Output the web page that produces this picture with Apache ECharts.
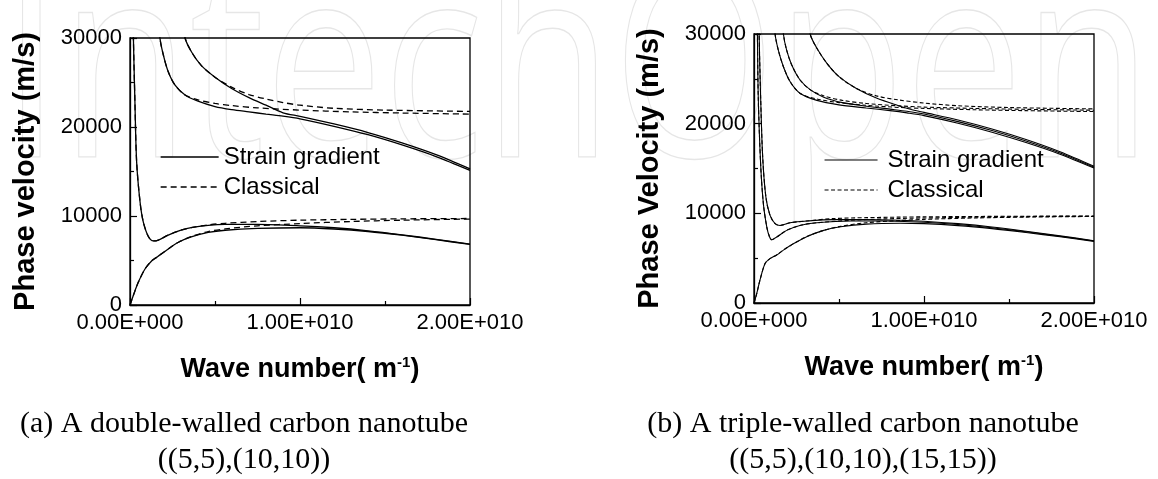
<!DOCTYPE html>
<html>
<head>
<meta charset="utf-8">
<script src="https://cdn.jsdelivr.net/npm/echarts@6/dist/echarts.min.js"></script>
<style>
  html, body { margin: 0; padding: 0; background: #fff; }
  #chart { width: 1158px; height: 479px; }
</style>
</head>
<body>
<div id="chart"></div>
<script>
// Wave number k is given in units of 1e10 m^-1, phase velocity in m/s.
const K_UNIT = 1e10;

// Axis ranges and tick steps
const xRange = [0, 2e10];
const xStep = 1e10;
const yRange = [0, 30000];
const yStep = 10000;

// Legend entries
const legendNames = ['Strain gradient', 'Classical'];

// ---- (a) double-walled tube ((5,5),(10,10)) ----
const aStrain1 = [[0,0],[0.02,1100],[0.05,2600],[0.09,4100],[0.13,5000],[0.16,5400],[0.225,6300],[0.285,7050],[0.36,7650],[0.46,8150],[0.56,8400],[0.75,8600],[1.0,8680],[1.2,8540],[1.4,8260],[1.6,7840],[1.8,7340],[2.0,6800]];
const aClassic1 = [[0,0],[0.02,1100],[0.05,2600],[0.09,4100],[0.13,5000],[0.16,5400],[0.225,6300],[0.285,7050],[0.36,7700],[0.46,8250],[0.56,8550],[0.75,8900],[1.0,9150],[1.3,9380],[1.6,9530],[2.0,9660]];
const aStrain2 = [[0.016,36000],[0.02,30000],[0.029,22800],[0.039,16100],[0.059,11600],[0.078,9350],[0.108,7700],[0.137,7200],[0.167,7300],[0.225,7850],[0.30,8400],[0.36,8700],[0.46,8950],[0.56,9050],[0.75,9050],[1.0,8900],[1.2,8680],[1.4,8340],[1.6,7890],[1.8,7380],[2.0,6840]];
const aClassic2 = [[0.016,36000],[0.02,30000],[0.029,22800],[0.039,16100],[0.059,11600],[0.078,9350],[0.108,7700],[0.137,7200],[0.167,7300],[0.225,7850],[0.30,8400],[0.36,8700],[0.46,9000],[0.56,9180],[0.75,9380],[1.0,9530],[1.3,9620],[1.6,9680],[2.0,9720]];
const aStrain3 = [[0.165,33000],[0.176,30000],[0.196,28100],[0.225,26200],[0.265,24700],[0.324,23600],[0.40,22900],[0.50,22300],[0.60,21950],[0.70,21700],[0.80,21450],[0.90,21220],[1.0,20920],[1.2,20080],[1.4,19130],[1.6,17980],[1.8,16680],[2.0,15130]];
const aClassic3 = [[0.165,33000],[0.176,30000],[0.196,28100],[0.225,26200],[0.265,24700],[0.324,23600],[0.40,23050],[0.50,22650],[0.60,22400],[0.75,22150],[1.0,21900],[1.3,21700],[1.6,21570],[2.0,21450]];
const aStrain4 = [[0.31,32500],[0.324,30000],[0.363,28400],[0.42,26900],[0.50,25600],[0.60,24300],[0.70,23300],[0.80,22450],[0.90,21600],[1.0,21200],[1.2,20340],[1.4,19380],[1.6,18220],[1.8,16900],[2.0,15300]];
const aClassic4 = [[0.31,32500],[0.324,30000],[0.363,28400],[0.42,26900],[0.50,25600],[0.60,24450],[0.70,23650],[0.80,23150],[0.90,22750],[1.0,22450],[1.2,22100],[1.5,21900],[2.0,21750]];

// ---- (b) triple-walled tube ((5,5),(10,10),(15,15)) ----
const bStrain1 = [[0,0],[0.016,1050],[0.035,2550],[0.065,4400],[0.094,4950],[0.133,5350],[0.173,5900],[0.231,6600],[0.31,7400],[0.41,8100],[0.51,8500],[0.66,8800],[0.86,8900],[1.0,8850],[1.2,8630],[1.4,8290],[1.6,7860],[1.8,7390],[2.0,6870]];
const bClassic1 = [[0,0],[0.016,1050],[0.035,2550],[0.065,4400],[0.094,4950],[0.133,5350],[0.173,5900],[0.231,6600],[0.31,7400],[0.41,8100],[0.51,8550],[0.66,8950],[0.86,9200],[1.0,9330],[1.3,9480],[1.6,9580],[2.0,9650]];
const bStrain2 = [[0.016,36000],[0.02,30000],[0.025,23000],[0.039,15500],[0.055,11100],[0.075,8500],[0.09,7450],[0.104,7050],[0.133,7350],[0.192,8100],[0.27,8650],[0.37,8950],[0.57,9150],[0.76,9150],[1.0,9000],[1.2,8760],[1.4,8400],[1.6,7940],[1.8,7440],[2.0,6910]];
const bClassic2 = [[0.016,36000],[0.02,30000],[0.025,23000],[0.039,15500],[0.055,11100],[0.075,8500],[0.09,7450],[0.104,7050],[0.133,7350],[0.192,8100],[0.27,8650],[0.37,8950],[0.57,9230],[0.76,9380],[1.0,9480],[1.3,9570],[1.6,9630],[2.0,9680]];
const bStrain3 = [[0.024,37000],[0.03,30000],[0.039,23000],[0.051,16300],[0.07,11800],[0.094,9800],[0.124,8850],[0.153,8650],[0.212,8950],[0.31,9150],[0.47,9300],[0.66,9300],[0.86,9230],[1.0,9120],[1.2,8850],[1.4,8480],[1.6,8000],[1.8,7490],[2.0,6950]];
const bClassic3 = [[0.024,37000],[0.03,30000],[0.039,23000],[0.051,16300],[0.07,11800],[0.094,9800],[0.124,8850],[0.153,8650],[0.212,8950],[0.31,9150],[0.47,9420],[0.66,9520],[0.86,9580],[1.0,9610],[1.3,9650],[1.6,9680],[2.0,9700]];
const bStrain4 = [[0.115,33000],[0.124,30000],[0.143,28200],[0.173,26350],[0.212,24700],[0.27,23400],[0.37,22600],[0.5,22100],[0.66,21750],[0.8,21450],[0.9,21200],[1.0,20900],[1.2,20050],[1.4,19050],[1.6,17900],[1.8,16600],[2.0,15050]];
const bClassic4 = [[0.115,33000],[0.124,30000],[0.143,28200],[0.173,26350],[0.212,24700],[0.27,23400],[0.37,22750],[0.5,22350],[0.66,22050],[0.86,21800],[1.0,21700],[1.3,21550],[1.6,21450],[2.0,21350]];
const bStrain5 = [[0.165,32500],[0.173,30000],[0.192,28200],[0.222,26550],[0.27,24900],[0.33,23800],[0.41,22950],[0.52,22350],[0.66,21950],[0.8,21620],[0.9,21380],[1.0,21080],[1.2,20230],[1.4,19230],[1.6,18070],[1.8,16740],[2.0,15150]];
const bClassic5 = [[0.165,32500],[0.173,30000],[0.192,28200],[0.222,26550],[0.27,24900],[0.33,23800],[0.41,23100],[0.52,22600],[0.66,22250],[0.86,21980],[1.0,21850],[1.3,21700],[1.6,21600],[2.0,21500]];
const bStrain6 = [[0.32,32000],[0.33,30000],[0.37,28400],[0.43,26700],[0.5,25250],[0.6,23950],[0.72,22850],[0.85,22000],[0.92,21600],[1.0,21260],[1.2,20410],[1.4,19410],[1.6,18240],[1.8,16880],[2.0,15250]];
const bClassic6 = [[0.32,32000],[0.33,30000],[0.37,28400],[0.43,26700],[0.5,25250],[0.6,23950],[0.72,23100],[0.85,22650],[1.0,22300],[1.2,22000],[1.5,21800],[2.0,21650]];

const SANS = '"Liberation Sans", Arial, sans-serif';
const SERIF = '"Liberation Serif", "Times New Roman", serif';

// 1e10 -> "1.00E+010"
function sciLabel(v) {
  const parts = Number(v).toExponential(2).split('e');
  const n = parseInt(parts[1], 10);
  return parts[0] + 'E' + (n < 0 ? '-' : '+') + String(Math.abs(n)).padStart(3, '0');
}

const DASH_A = [6, 4];
const DASH_B = [4, 2.5];

function curve(points, name, gi, dash, width) {
  return {
    type: 'line',
    name: name,
    xAxisIndex: gi,
    yAxisIndex: gi,
    data: points.map(p => [p[0] * K_UNIT, p[1]]),
    symbol: 'none',
    showSymbol: false,
    smooth: 0.3,
    clip: true,
    silent: true,
    animation: false,
    itemStyle: { color: '#000', opacity: 0 },
    lineStyle: { color: '#000', width: width, type: dash || 'solid' },
    z: dash ? 3 : 2
  };
}

function xAxisFor(gi) {
  return {
    type: 'value', gridIndex: gi,
    min: xRange[0], max: xRange[1], interval: xStep,
    axisLine: { show: true, lineStyle: { color: '#000', width: 1.3 } },
    axisTick: { show: true, inside: true, length: 7, lineStyle: { color: '#000', width: 1.2 } },
    minorTick: { show: true, splitNumber: 2, length: 4, lineStyle: { color: '#000', width: 1.2 } },
    splitLine: { show: false }, minorSplitLine: { show: false },
    axisLabel: { formatter: sciLabel, fontSize: 22, fontFamily: SANS, color: '#000', margin: 7, showMinLabel: true, showMaxLabel: true, hideOverlap: false },
    name: '{t|Wave number( m}{s|-1}{t|)}',
    nameLocation: 'middle', nameGap: 50, nameMoveOverlap: false,
    nameTextStyle: {
      rich: {
        t: { fontSize: 27, fontWeight: 'bold', fontFamily: SANS, color: '#000', lineHeight: 30 },
        s: { fontSize: 15, fontWeight: 'bold', fontFamily: SANS, color: '#000', lineHeight: 15, verticalAlign: 'top' }
      }
    }
  };
}

function yAxisFor(gi, title) {
  return {
    type: 'value', gridIndex: gi,
    min: yRange[0], max: yRange[1], interval: yStep,
    axisLine: { show: true, lineStyle: { color: '#000', width: 1.3 } },
    axisTick: { show: true, inside: true, length: 7, lineStyle: { color: '#000', width: 1.2 } },
    minorTick: { show: true, splitNumber: 2, length: 4, lineStyle: { color: '#000', width: 1.2 } },
    splitLine: { show: false }, minorSplitLine: { show: false },
    axisLabel: { formatter: v => String(v), fontSize: 22, fontFamily: SANS, color: '#000', margin: 8, showMinLabel: true, showMaxLabel: true, hideOverlap: false },
    name: title, nameLocation: 'middle', nameGap: 90, nameMoveOverlap: false,
    nameTextStyle: { fontSize: 29, fontWeight: 'bold', fontFamily: SANS, color: '#000' }
  };
}

const series = [
  curve(aStrain1, legendNames[0], 0, null, 1.3),
  curve(aStrain2, legendNames[0], 0, null, 1.3),
  curve(aStrain3, legendNames[0], 0, null, 1.3),
  curve(aStrain4, legendNames[0], 0, null, 1.3),
  curve(aClassic1, legendNames[1], 0, DASH_A, 1.3),
  curve(aClassic2, legendNames[1], 0, DASH_A, 1.3),
  curve(aClassic3, legendNames[1], 0, DASH_A, 1.3),
  curve(aClassic4, legendNames[1], 0, DASH_A, 1.3),
  curve(bStrain1, legendNames[0], 1, null, 1.1),
  curve(bStrain2, legendNames[0], 1, null, 1.1),
  curve(bStrain3, legendNames[0], 1, null, 1.1),
  curve(bStrain4, legendNames[0], 1, null, 1.1),
  curve(bStrain5, legendNames[0], 1, null, 1.1),
  curve(bStrain6, legendNames[0], 1, null, 1.1),
  curve(bClassic1, legendNames[1], 1, DASH_B, 1.1),
  curve(bClassic2, legendNames[1], 1, DASH_B, 1.1),
  curve(bClassic3, legendNames[1], 1, DASH_B, 1.1),
  curve(bClassic4, legendNames[1], 1, DASH_B, 1.1),
  curve(bClassic5, legendNames[1], 1, DASH_B, 1.1),
  curve(bClassic6, legendNames[1], 1, DASH_B, 1.1)
];

// Faint outlined watermark across the top, stretched to the page width
const WM_TEXT = 'IntechOpen';
const WM_SIZE = 270;
const WM_FONT = WM_SIZE + 'px "Open Sans"';
const measureCtx = document.createElement('canvas').getContext('2d');
measureCtx.font = WM_FONT;
const wmScaleX = 1150 / measureCtx.measureText(WM_TEXT).width;

const legendText = { fontSize: 24, fontFamily: SANS, color: '#000', lineHeight: 24 };
const hiddenMarker = { opacity: 0, color: 'transparent', borderWidth: 0 };

const chart = echarts.init(document.getElementById('chart'), null, { renderer: 'canvas' });
chart.setOption({
  backgroundColor: '#fff',
  animation: false,
  grid: [
    { left: 130, top: 38, width: 340, height: 267, show: true, borderColor: '#000', borderWidth: 1.3, backgroundColor: 'transparent', containLabel: false, outerBoundsMode: 'none' },
    { left: 754, top: 34, width: 340, height: 269, show: true, borderColor: '#000', borderWidth: 1.3, backgroundColor: 'transparent', containLabel: false, outerBoundsMode: 'none' }
  ],
  xAxis: [xAxisFor(0), xAxisFor(1)],
  yAxis: [yAxisFor(0, 'Phase velocity (m/s)'), yAxisFor(1, 'Phase Velocity (m/s)')],
  legend: [
    {
      orient: 'vertical', left: 160, top: 145, padding: 0, itemGap: 6,
      itemWidth: 58, itemHeight: 14, selectedMode: false,
      itemStyle: hiddenMarker,
      data: [
        { name: legendNames[0], itemStyle: hiddenMarker, lineStyle: { color: '#000', width: 1.3 } },
        { name: legendNames[1], itemStyle: hiddenMarker, lineStyle: { color: '#000', width: 1.3, type: DASH_A } }
      ],
      textStyle: legendText
    },
    {
      orient: 'vertical', left: 824, top: 148, padding: 0, itemGap: 6,
      itemWidth: 53, itemHeight: 14, selectedMode: false,
      itemStyle: hiddenMarker,
      data: [
        { name: legendNames[0], itemStyle: hiddenMarker, lineStyle: { color: '#000', width: 1.1 } },
        { name: legendNames[1], itemStyle: hiddenMarker, lineStyle: { color: '#000', width: 1.1, type: DASH_B } }
      ],
      textStyle: Object.assign({ padding: [0, 0, 0, 5] }, legendText)
    }
  ],
  graphic: {
    elements: [
      {
        type: 'text', x: 2, y: -55, z: -10, silent: true,
        scaleX: wmScaleX, scaleY: 1,
        style: { text: WM_TEXT, font: WM_FONT, fill: 'none', stroke: '#e6e6e6', lineWidth: 1.4, textAlign: 'left', textVerticalAlign: 'top' }
      },
      {
        type: 'text', x: 244, y: 424, silent: true,
        style: { text: '(a) A double-walled carbon nanotube', font: '30px ' + SERIF, fill: '#000', textAlign: 'center', textVerticalAlign: 'middle' }
      },
      {
        type: 'text', x: 244, y: 460, silent: true,
        style: { text: '((5,5),(10,10))', font: '30px ' + SERIF, fill: '#000', textAlign: 'center', textVerticalAlign: 'middle' }
      },
      {
        type: 'text', x: 863, y: 424, silent: true,
        style: { text: '(b) A triple-walled carbon nanotube', font: '30px ' + SERIF, fill: '#000', textAlign: 'center', textVerticalAlign: 'middle' }
      },
      {
        type: 'text', x: 863, y: 460, silent: true,
        style: { text: '((5,5),(10,10),(15,15))', font: '30px ' + SERIF, fill: '#000', textAlign: 'center', textVerticalAlign: 'middle' }
      }
    ]
  },
  series: series
});
</script>
</body>
</html>
